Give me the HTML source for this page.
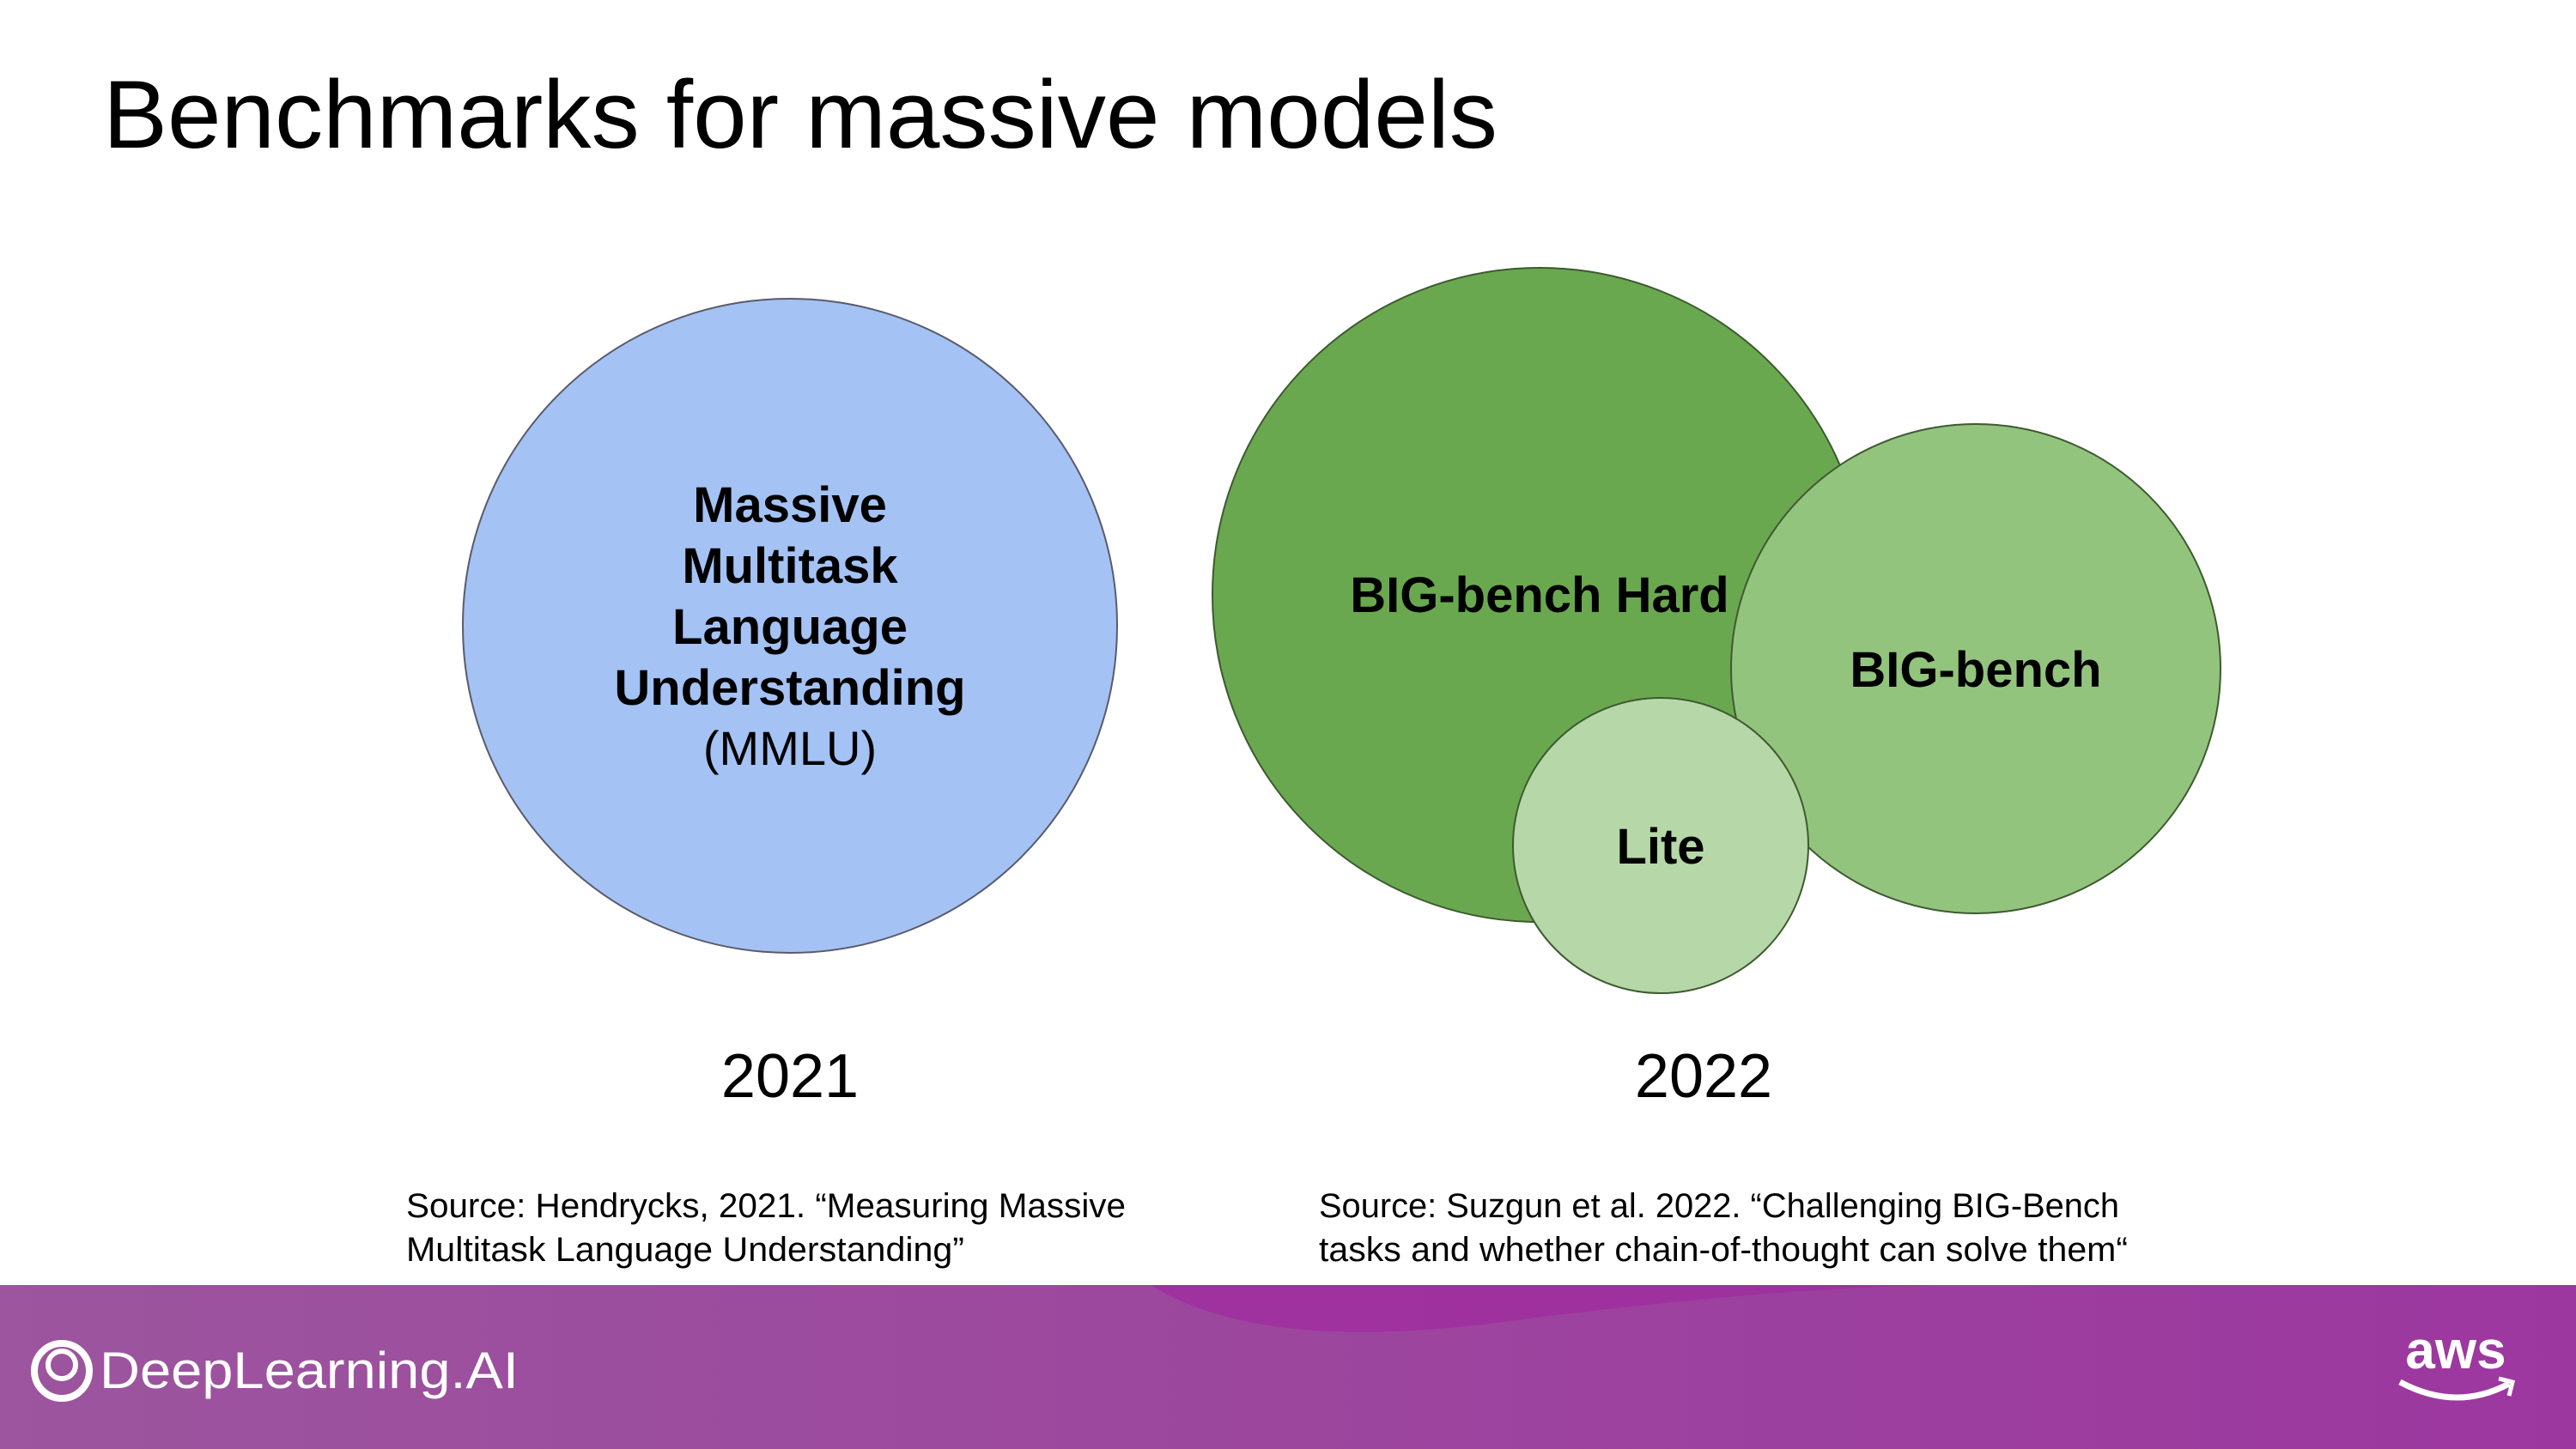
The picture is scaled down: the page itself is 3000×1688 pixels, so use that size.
<!DOCTYPE html>
<html><head><meta charset="utf-8"><style>
html,body{margin:0;padding:0;background:#fff;}
svg{display:block;font-family:"Liberation Sans",sans-serif;}
</style></head><body>
<svg width="3000" height="1688" viewBox="0 0 3000 1688">
<defs>
<linearGradient id="fg" x1="0" x2="1" y1="0" y2="0">
<stop offset="0" stop-color="#9c559e"/><stop offset="1" stop-color="#9c379f"/>
</linearGradient>
</defs>
<text x="120" y="172" font-size="112" fill="#000" textLength="1624" lengthAdjust="spacingAndGlyphs">Benchmarks for massive models</text>

<g>
<circle cx="920" cy="729" r="381" fill="#a4c2f4" stroke="#5a5a6a" stroke-width="2"/>
<g text-anchor="middle" font-size="58" font-weight="bold" fill="#000">
<text x="920" y="608">Massive</text>
<text x="920" y="679">Multitask</text>
<text x="920" y="750">Language</text>
<text x="920" y="821">Understanding</text>
<text x="920" y="891" font-weight="normal" font-size="56">(MMLU)</text>
</g>
</g>

<circle cx="1793" cy="693" r="381" fill="#6aa84f" stroke="#3d5a30" stroke-width="2"/>
<circle cx="2301" cy="779" r="285" fill="#93c47d" stroke="#3d5a30" stroke-width="2"/>
<circle cx="1934" cy="985" r="172" fill="#b6d7a8" stroke="#3d5a30" stroke-width="2"/>
<g text-anchor="middle" font-size="58" font-weight="bold" fill="#000">
<text x="1793" y="713">BIG-bench Hard</text>
<text x="2301" y="800">BIG-bench</text>
<text x="1934" y="1006">Lite</text>
</g>

<g text-anchor="middle" font-size="72" fill="#000">
<text x="920" y="1278">2021</text>
<text x="1984" y="1278">2022</text>
</g>

<g font-size="40" fill="#000">
<text x="473" y="1418" textLength="838" lengthAdjust="spacingAndGlyphs">Source: Hendrycks, 2021. “Measuring Massive</text>
<text x="473" y="1469" textLength="650" lengthAdjust="spacingAndGlyphs">Multitask Language Understanding”</text>
<text x="1536" y="1418" textLength="932" lengthAdjust="spacingAndGlyphs">Source: Suzgun et al. 2022. “Challenging BIG-Bench</text>
<text x="1536" y="1469" textLength="942" lengthAdjust="spacingAndGlyphs">tasks and whether chain-of-thought can solve them“</text>
</g>

<g>
<rect x="0" y="1497" width="3000" height="191" fill="url(#fg)"/>
<path d="M1340 1497 C1440 1560 1600 1560 1750 1540 C1900 1520 2100 1500 2250 1497 Z" fill="#a02d9f" opacity="0.8"/>
<g>
<circle cx="72" cy="1597" r="32" fill="none" stroke="#fff" stroke-width="8"/>
<circle cx="72" cy="1590" r="16" fill="none" stroke="#fff" stroke-width="6"/>
<text x="116" y="1617" font-size="60" fill="#fff" textLength="488" lengthAdjust="spacingAndGlyphs">DeepLearning.AI</text>
</g>
<g>
<text x="2860" y="1594" font-size="62" fill="#fff" text-anchor="middle" font-weight="bold">aws</text>
<path d="M2795 1610 Q2860 1645 2922 1612" fill="none" stroke="#fff" stroke-width="7"/>
<path d="M2910 1606 L2926 1610 L2922 1626" fill="none" stroke="#fff" stroke-width="5"/>
</g>
</g>
</svg>
</body></html>
